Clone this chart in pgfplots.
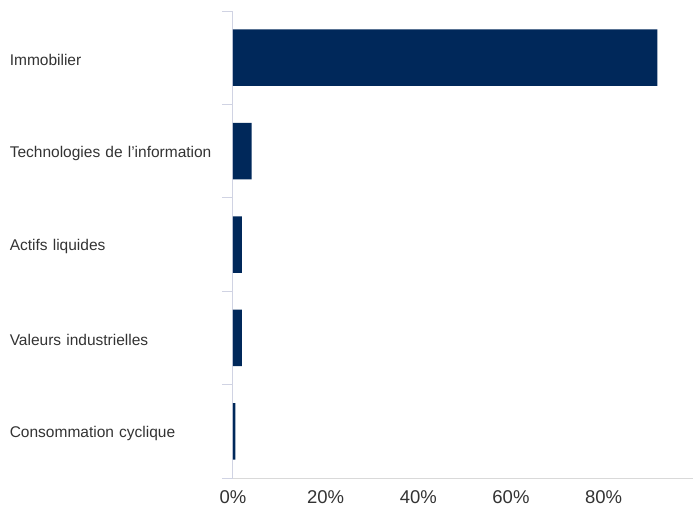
\documentclass[border=0pt]{standalone}
\usepackage{fontspec}
\setmainfont{Liberation Sans}
\usepackage{pgfplots}
\pgfplotsset{compat=1.18}
\definecolor{barnavy}{HTML}{00285A}
\definecolor{axisgrey}{HTML}{D9D9D9}
\definecolor{tickgrey}{HTML}{D0D3E3}
\definecolor{labelgrey}{HTML}{333333}

\begin{document}
\begin{tikzpicture}
\useasboundingbox (-233pt,-31pt) rectangle (460pt,478pt);
\begin{axis}[
    scale only axis,
    width=460pt, height=467pt,
    xbar, bar width=56.5pt,
    xmin=0, xmax=99.3,
    ymin=-0.5, ymax=4.5,
    axis x line*=bottom, axis y line*=left,
    x axis line style={axisgrey, line width=1pt, -},
    y axis line style={tickgrey, line width=1pt, -},
    xtick={0,20,40,60,80},
    xticklabels={0\%,20\%,40\%,60\%,80\%},
    xticklabel style={font=\fontsize{18.5}{22}\selectfont, text=labelgrey, yshift=-9pt},
    major tick length=0pt,
    ytick={0,1,2,3,4},
    yticklabels={Consommation cyclique,Valeurs industrielles,Actifs liquides,Technologies de l’information,Immobilier},
    yticklabel style={font=\fontsize{15.5}{18}\selectfont, text=labelgrey, text width=223pt, align=left, anchor=east, inner sep=0pt, yshift=-2pt},
    minor ytick={-0.5,0.5,1.5,2.5,3.5,4.5},
    minor tick length=11pt,
    tick align=outside,
    minor y tick style={draw=tickgrey, line width=1pt},
    clip=false,
]
\addplot[fill=barnavy, draw=none] coordinates {(0.5,0) (1.9,1) (1.9,2) (4.0,3) (91.6,4)};
\end{axis}
\end{tikzpicture}
\end{document}
